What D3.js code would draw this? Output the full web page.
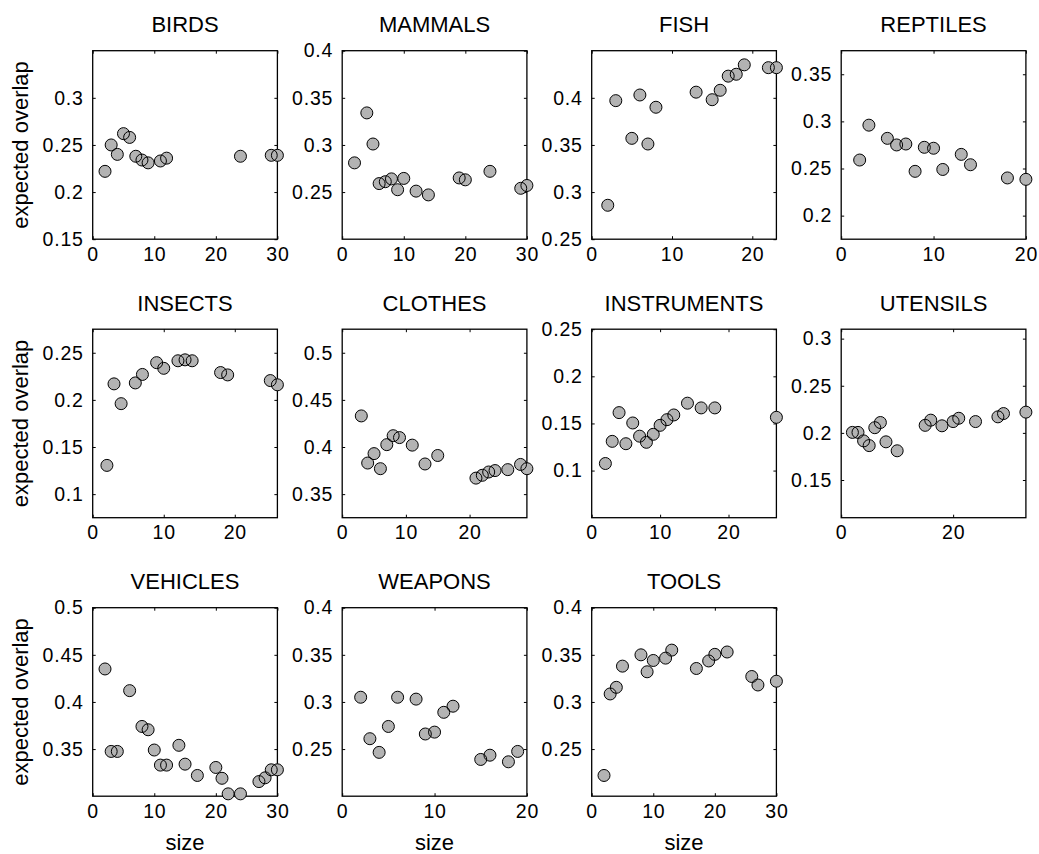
<!DOCTYPE html>
<html>
<head>
<meta charset="utf-8">
<script src="https://cdn.jsdelivr.net/npm/d3@7"></script>
<style>
  html, body { margin: 0; padding: 0; background: #fff; }
  svg { display: block; }
  text { fill: #000; }
</style>
</head>
<body>
<svg id="chart" width="1039" height="854"></svg>
<script>
// ---------- data ----------
const categories = ["BIRDS","MAMMALS","FISH","REPTILES","INSECTS","CLOTHES","INSTRUMENTS","UTENSILS","VEHICLES","WEAPONS","TOOLS"];

const birdsSize = [2,3,4,5,6,7,8,9,11,12,24,29,30];
const birdsOverlap = [0.222,0.250,0.240,0.262,0.258,0.238,0.234,0.231,0.233,0.236,0.238,0.239,0.239];

const mammalsSize = [2,4,5,6,7,8,9,10,12,14,19,20,24,29,30];
const mammalsOverlap = [0.281,0.334,0.301,0.259,0.261,0.264,0.2525,0.2645,0.251,0.247,0.265,0.263,0.272,0.254,0.257];

const fishSize = [2,3,5,6,7,8,13,15,16,17,18,19,22,23];
const fishOverlap = [0.286,0.397,0.357,0.403,0.351,0.390,0.406,0.398,0.408,0.423,0.425,0.435,0.432,0.432];

const reptilesSize = [2,3,5,6,7,8,9,10,11,13,14,18,20];
const reptilesOverlap = [0.259,0.296,0.282,0.275,0.276,0.247,0.2725,0.2715,0.249,0.265,0.254,0.240,0.2385];

const insectsSize = [2,3,4,6,7,9,10,12,13,14,18,19,25,26];
const insectsOverlap = [0.1305,0.217,0.196,0.218,0.227,0.2395,0.2335,0.2415,0.2425,0.2415,0.229,0.2265,0.2205,0.216];

const clothesSize = [3,4,5,6,7,8,9,11,13,15,21,22,23,24,26,28,29];
const clothesOverlap = [0.433,0.383,0.393,0.377,0.4025,0.412,0.410,0.402,0.382,0.391,0.367,0.370,0.3735,0.375,0.376,0.3815,0.377];

const instrumentsSize = [2,3,4,5,6,7,8,9,10,11,12,14,16,18,27];
const instrumentsOverlap = [0.1075,0.131,0.1615,0.1285,0.1505,0.1365,0.130,0.1385,0.148,0.154,0.159,0.1715,0.1665,0.1665,0.1565];

const utensilsSize = [2,3,4,5,6,7,8,10,15,16,18,20,21,24,28,29,33];
const utensilsOverlap = [0.2005,0.2005,0.1915,0.1865,0.2055,0.211,0.1905,0.181,0.208,0.2135,0.2075,0.212,0.2155,0.212,0.217,0.2205,0.222];

const vehiclesSize = [2,3,4,6,8,9,10,11,12,14,15,17,20,21,22,24,27,28,29,30];
const vehiclesOverlap = [0.435,0.3475,0.3475,0.412,0.374,0.3705,0.349,0.333,0.333,0.354,0.334,0.322,0.3305,0.319,0.3025,0.3025,0.3155,0.3195,0.328,0.328];

const weaponsSize = [2,3,4,5,6,8,9,10,11,12,15,16,18,19];
const weaponsOverlap = [0.305,0.261,0.2465,0.274,0.305,0.303,0.266,0.268,0.289,0.2955,0.239,0.2435,0.2365,0.2475];

const toolsSize = [2,3,4,5,8,9,10,12,13,17,19,20,22,26,27,30];
const toolsOverlap = [0.222,0.3085,0.3155,0.338,0.350,0.332,0.344,0.3465,0.355,0.3355,0.3435,0.3505,0.353,0.327,0.318,0.322];

const sizeSeries = [birdsSize, mammalsSize, fishSize, reptilesSize, insectsSize, clothesSize, instrumentsSize, utensilsSize, vehiclesSize, weaponsSize, toolsSize];
const overlapSeries = [birdsOverlap, mammalsOverlap, fishOverlap, reptilesOverlap, insectsOverlap, clothesOverlap, instrumentsOverlap, utensilsOverlap, vehiclesOverlap, weaponsOverlap, toolsOverlap];

// axis limits and tick labels per panel
const xMax = [30,30,23,20,26,29,27,33,30,20,30];
const yLimits = [[0.15,0.35],[0.2,0.4],[0.25,0.45],[0.175,0.375],[0.075,0.275],[0.325,0.525],[0.05,0.25],[0.11,0.31],[0.3,0.5],[0.2,0.4],[0.2,0.4]];
const xTickLabels = [[0,10,20,30],[0,10,20,30],[0,10,20],[0,10,20],[0,10,20],[0,10,20],[0,10,20],[0,20],[0,10,20,30],[0,10,20],[0,10,20,30]];
const yTickLabels = [
  [0.15,0.2,0.25,0.3],
  [0.25,0.3,0.35,0.4],
  [0.25,0.3,0.35,0.4],
  [0.2,0.25,0.3,0.35],
  [0.1,0.15,0.2,0.25],
  [0.35,0.4,0.45,0.5],
  [0.1,0.15,0.2,0.25],
  [0.15,0.2,0.25,0.3],
  [0.35,0.4,0.45,0.5],
  [0.25,0.3,0.35,0.4],
  [0.25,0.3,0.35,0.4]
];
const xLabel = "size";
const yLabel = "expected overlap";

// ---------- layout ----------
const svg = d3.select("#chart");
const colLeft = [92.7, 342.2, 591.7, 841.2];
const rowTop = [50.7, 329.2, 607.7];
const pw = 184.7, ph = 188.5;
const tickFont = "'Liberation Sans', Arial, Helvetica, sans-serif";

categories.forEach((cat, i) => {
  const col = i % 4, row = Math.floor(i / 4);
  const g = svg.append("g").attr("transform", `translate(${colLeft[col]},${rowTop[row]})`);
  const x = d3.scaleLinear().domain([0, xMax[i]]).range([0, pw]);
  const y = d3.scaleLinear().domain(yLimits[i]).range([ph, 0]);

  // bottom axis (labels), ticks inward
  const xAxis = d3.axisBottom(x).tickValues(xTickLabels[i]).tickSize(-3).tickPadding(7).tickFormat(d3.format("d"));
  const gx = g.append("g").attr("transform", `translate(0,${ph})`).call(xAxis);
  const yAxis = d3.axisLeft(y).tickValues(yTickLabels[i]).tickSize(-3).tickPadding(9).tickFormat(d => String(+d.toFixed(3)));
  const gy = g.append("g").call(yAxis);
  // mirrored ticks on top/right
  const gxt = g.append("g").call(d3.axisTop(x).tickValues(xTickLabels[i]).tickSize(-3).tickFormat(""));
  const gyr = g.append("g").attr("transform", `translate(${pw},0)`).call(d3.axisRight(y).tickValues(yTickLabels[i]).tickSize(-3).tickFormat(""));

  [gx, gy, gxt, gyr].forEach(a => {
    a.select(".domain").remove();
    a.selectAll(".tick line").attr("stroke", "#000").attr("stroke-width", 1);
    a.selectAll("text")
      .attr("font-family", tickFont)
      .attr("font-size", 19.5)
      .attr("letter-spacing", "0.8px")
      .attr("fill", "#000");
  });
  gx.selectAll("text").attr("dy", "0.75em");

  // box
  g.append("rect").attr("x", 0).attr("y", 0).attr("width", pw).attr("height", ph)
    .attr("fill", "none").attr("stroke", "#000").attr("stroke-width", 1.3);

  // title
  g.append("text").attr("x", pw / 2).attr("y", -18.3)
    .attr("text-anchor", "middle")
    .attr("font-family", tickFont).attr("font-size", 22)
    .text(cat);

  if (col === 0) {
    g.append("text")
      .attr("transform", `translate(${28 - colLeft[0]},${ph / 2}) rotate(-90)`)
      .attr("text-anchor", "middle")
      .attr("font-family", tickFont).attr("font-size", 22)
      .text(yLabel);
  }
  if (row === 2) {
    g.append("text").attr("x", pw / 2).attr("y", 850 - rowTop[2])
      .attr("text-anchor", "middle")
      .attr("font-family", tickFont).attr("font-size", 22)
      .text(xLabel);
  }

  const pts = sizeSeries[i].map((s, k) => ({ s, v: overlapSeries[i][k] }));
  // fills first, then outlines (both outlines visible where markers overlap)
  g.append("g").selectAll("circle").data(pts).join("circle")
    .attr("cx", d => x(d.s)).attr("cy", d => y(d.v)).attr("r", 6)
    .attr("fill", "#b3b3b3").attr("stroke", "none");
  g.append("g").selectAll("circle").data(pts).join("circle")
    .attr("cx", d => x(d.s)).attr("cy", d => y(d.v)).attr("r", 6)
    .attr("fill", "none").attr("stroke", "#000").attr("stroke-width", 1);
});
</script>
</body>
</html>
